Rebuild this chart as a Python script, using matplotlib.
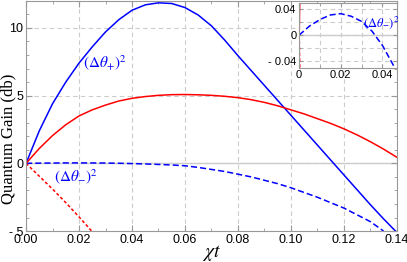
import matplotlib
matplotlib.use("Agg")
import matplotlib.pyplot as plt
from matplotlib.ticker import MultipleLocator, FixedLocator

plt.rcParams['mathtext.fontset'] = 'stix'
plt.rcParams['font.family'] = ['Liberation Sans', 'DejaVu Sans']

# ---- data ----
x_plus = [0.0, 0.005, 0.01, 0.015, 0.02, 0.025, 0.03, 0.035, 0.04, 0.045, 0.05, 0.055,
          0.06, 0.065, 0.07, 0.075, 0.08, 0.085, 0.09, 0.095, 0.10, 0.105, 0.11, 0.115,
          0.12, 0.125, 0.13, 0.135, 0.14]
g_plus = [0.0, 2.4, 4.4, 6.0, 7.4, 8.6, 9.7, 10.6, 11.3, 11.7, 11.85, 11.8,
          11.5, 10.95, 10.15, 9.1, 7.95, 6.85, 5.75, 4.65, 3.55, 2.45, 1.35, 0.25,
          -0.85, -1.95, -3.05, -4.1, -5.1]

x_red = [0.0, 0.005, 0.01, 0.015, 0.02, 0.025, 0.03, 0.035, 0.04, 0.045, 0.05, 0.055,
         0.06, 0.065, 0.07, 0.075, 0.08, 0.085, 0.09, 0.095, 0.10, 0.105, 0.11, 0.115,
         0.12, 0.125, 0.13, 0.135, 0.14]
g_red = [0.0, 1.1, 2.05, 2.85, 3.5, 3.95, 4.3, 4.6, 4.8, 4.93, 5.02, 5.07,
         5.08, 5.06, 5.02, 4.95, 4.85, 4.7, 4.5, 4.25, 3.95, 3.65, 3.3, 2.95,
         2.55, 2.1, 1.6, 1.05, 0.45]

x_red_dash = [0.0, 0.005, 0.01, 0.015, 0.02, 0.025]
g_red_dash = [0.0, -0.95, -1.9, -2.9, -3.95, -5.05]

x_minus = [0.0, 0.005, 0.01, 0.015, 0.02, 0.025, 0.03, 0.035, 0.04, 0.045, 0.05, 0.055,
           0.06, 0.065, 0.07, 0.075, 0.08, 0.085, 0.09, 0.095, 0.10, 0.105, 0.11, 0.115,
           0.12, 0.125, 0.13, 0.135]
g_minus = [0.0, 0.014, 0.024, 0.031, 0.033, 0.029, 0.021, 0.006, -0.016, -0.045, -0.08, -0.12,
           -0.18, -0.3, -0.45, -0.6, -0.8, -1.0, -1.25, -1.5, -1.8, -2.15, -2.5, -2.9,
           -3.3, -3.8, -4.3, -5.0]

x_ticks = [0.00, 0.02, 0.04, 0.06, 0.08, 0.10, 0.12, 0.14]
y_ticks = [-5, 0, 5, 10]
inset_xticks = [0, 0.02, 0.04]
inset_yticks = [-0.04, 0, 0.04]

blue = '#0000ff'
red = '#ff0000'
frame = '#999999'

fig = plt.figure(figsize=(4.07, 2.62), dpi=100)
ax = fig.add_axes([0.064, 0.118, 0.911, 0.879])

ax.plot(x_plus, g_plus, color=blue, lw=1.1)
ax.plot(x_minus, g_minus, color=blue, lw=1.1, ls=(0, (4, 2)))
ax.plot(x_red, g_red, color=red, lw=1.1)
ax.plot(x_red_dash, g_red_dash, color=red, lw=1.1, ls=(0, (2, 1.5)))
ax.axhline(0, color='#cccccc', lw=1.0, zorder=0)

ax.set_xlim(0, 0.14)
ax.set_ylim(-5, 12)
ax.xaxis.set_major_locator(FixedLocator(x_ticks))
ax.xaxis.set_minor_locator(MultipleLocator(0.01))
ax.yaxis.set_major_locator(FixedLocator(y_ticks))
ax.yaxis.set_minor_locator(MultipleLocator(1))
ax.set_xticklabels([f"{v:.2f}" for v in x_ticks])
ax.set_yticklabels([("- " + str(abs(v))) if v < 0 else str(v) for v in y_ticks])
ax.tick_params(which='both', direction='in', top=True, right=True, color=frame,
               labelsize=9, pad=2)
ax.tick_params(which='major', length=4)
ax.tick_params(which='minor', length=2.5)
for s in ax.spines.values():
    s.set_color(frame)
ax.grid(True, which='major', color='#cccccc', ls=(0, (4, 3)), lw=0.8)

ax.set_ylabel('Quantum Gain (db)', family=['Liberation Serif'], fontsize=12)
ax.yaxis.set_label_coords(-0.027, 0.40)
ax.set_xlabel(r'$\chi t$', fontsize=14, labelpad=-2)

ax.text(0.0298, 7.4, r'$(\Delta\theta_{+})^2$', color=blue, fontsize=11,
        ha='center', va='center')
ax.text(0.019, -1.0, r'$(\Delta\theta_{-})^2$', color=blue, fontsize=11,
        ha='center', va='center')

# ---- inset ----
ins = fig.add_axes([0.735, 0.742, 0.240, 0.248])
ins.plot(x_plus, g_plus, color=blue, lw=1.0)
ins.plot(x_minus, g_minus, color=blue, lw=1.1, ls=(0, (4, 2)))
ins.plot(x_red, g_red, color=red, lw=1.2)
ins.plot(x_red_dash, g_red_dash, color=red, lw=1.2, ls=(0, (2, 1.5)))
ins.axhline(0, color='#cccccc', lw=1.0, zorder=0)
ins.set_xlim(0, 0.0469)
ins.set_ylim(-0.05, 0.05)
ins.xaxis.set_major_locator(FixedLocator(inset_xticks))
ins.xaxis.set_minor_locator(MultipleLocator(0.01))
ins.yaxis.set_major_locator(FixedLocator(inset_yticks))
ins.yaxis.set_minor_locator(MultipleLocator(0.02))
ins.set_xticklabels(['0', '0.02', '0.04'])
ins.set_yticklabels(['- 0.04', '0', '0.04'])
ins.tick_params(which='both', direction='in', top=True, right=True, color=frame,
                labelsize=8, pad=2)
ins.tick_params(which='major', length=3)
ins.tick_params(which='minor', length=2)
for s in ins.spines.values():
    s.set_color(frame)
ins.grid(True, which='both', color='#cccccc', ls=(0, (4, 3)), lw=0.8)
ins.text(0.0392, 0.019, r'$(\Delta\theta_{-})^2$', color=blue, fontsize=9,
         ha='center', va='center')

fig.savefig('out.png', dpi=100)
